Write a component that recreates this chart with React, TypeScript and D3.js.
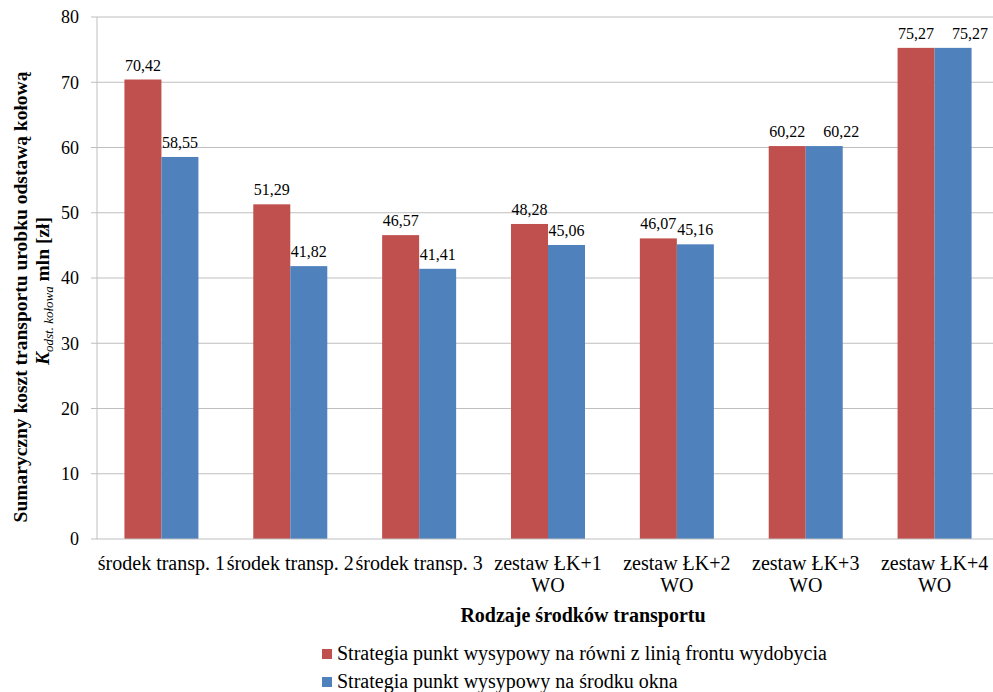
import React from "react";
import * as d3 from "d3";

const categories: string[][] = [
  ["środek transp. 1"],
  ["środek transp. 2"],
  ["środek transp. 3"],
  ["zestaw ŁK+1", "WO"],
  ["zestaw ŁK+2", "WO"],
  ["zestaw ŁK+3", "WO"],
  ["zestaw ŁK+4", "WO"],
];
const seriesRed = [70.42, 51.29, 46.57, 48.28, 46.07, 60.22, 75.27];
const seriesBlue = [58.55, 41.82, 41.41, 45.06, 45.16, 60.22, 75.27];
const seriesNames = [
  "Strategia punkt wysypowy na równi z linią frontu wydobycia",
  "Strategia punkt wysypowy na środku okna",
];
const yTicks = [0, 10, 20, 30, 40, 50, 60, 70, 80];
const colors = ["#C0504D", "#4F81BD"];

export default function App() {
  const W = 993, H = 692;
  const left = 97, right = 999, top = 17, bottom = 539;
  const font = "Liberation Serif, Times New Roman, DejaVu Serif, serif";
  const x = d3.scaleBand<number>().domain(d3.range(categories.length)).range([left, right]);
  const y = d3.scaleLinear().domain([0, 80]).range([bottom, top]);
  const bw = 37;
  const fmt = (v: number) => v.toFixed(2).replace(".", ",");
  const series = [seriesRed, seriesBlue];
  const ts = { fontFamily: font };

  return (
    <svg width={W} height={H} style={{ position: "absolute", left: 0, top: 0, background: "#fff", fontFamily: font }}>
      {yTicks.map((t) => (
        <g key={t}>
          {t > 0 && <line x1={left} x2={W} y1={y(t)} y2={y(t)} stroke="#bfbfbf" strokeWidth={1} />}
          <line x1={left - 6} x2={left} y1={y(t)} y2={y(t)} stroke="#bfbfbf" strokeWidth={1} />
          <text style={ts} x={79} y={y(t)} dy="0.35em" textAnchor="end" fontSize={18} fill="#000">{t}</text>
        </g>
      ))}
      {series.map((s, si) =>
        s.map((v, i) => {
          const cx = (x(i) as number) + x.bandwidth() / 2;
          const bx = cx - bw + si * bw;
          // label collision: when both labels sit at the same height, push the second one right
          const same = si === 1 && Math.abs(y(seriesRed[i]) - y(v)) < 3;
          const lx = bx + bw / 2 + (same ? 17 : 0);
          return (
            <g key={si + "-" + i}>
              <rect x={bx} y={y(v)} width={bw} height={bottom - y(v)} fill={colors[si]} />
              <text style={ts} x={lx} y={y(v) - 9} textAnchor="middle" fontSize={16} fill="#000">{fmt(v)}</text>
            </g>
          );
        })
      )}
      <line x1={left} x2={left} y1={top} y2={bottom} stroke="#bfbfbf" strokeWidth={1} />
      <line x1={left} x2={W} y1={bottom} y2={bottom} stroke="#bfbfbf" strokeWidth={1} />
      {categories.map((c, i) => {
        const cx = (x(i) as number) + x.bandwidth() / 2;
        return (
          <text style={ts} key={i} textAnchor="middle" fontSize={20} fill="#000">
            {c.map((line, li) => (
              <tspan key={li} x={cx} y={570 + li * 22}>{line}</tspan>
            ))}
          </text>
        );
      })}
      <text style={ts} x={583} y={622} textAnchor="middle" fontSize={20} fontWeight="bold">Rodzaje środków transportu</text>
      <g transform="translate(27,297) rotate(-90)">
        <text style={ts} x={0} y={0} textAnchor="middle" fontSize={19.5} fontWeight="bold">Sumaryczny koszt transportu urobku odstawą kołową</text>
        <text style={ts} x={6} y={22} textAnchor="middle" fontSize={19.5} fontWeight="bold">
          <tspan fontStyle="italic">K</tspan>
          <tspan fontStyle="italic" fontWeight="normal" fontSize={13} dy={4}>odst. kołowa</tspan>
          <tspan dy={-4}> mln [zł]</tspan>
        </text>
      </g>
      {seriesNames.map((n, i) => (
        <g key={i}>
          <rect x={322} y={649 + i * 28} width={10} height={10} fill={colors[i]} />
          <text style={ts} x={337} y={660 + i * 28} fontSize={20}>{n}</text>
        </g>
      ))}
    </svg>
  );
}
